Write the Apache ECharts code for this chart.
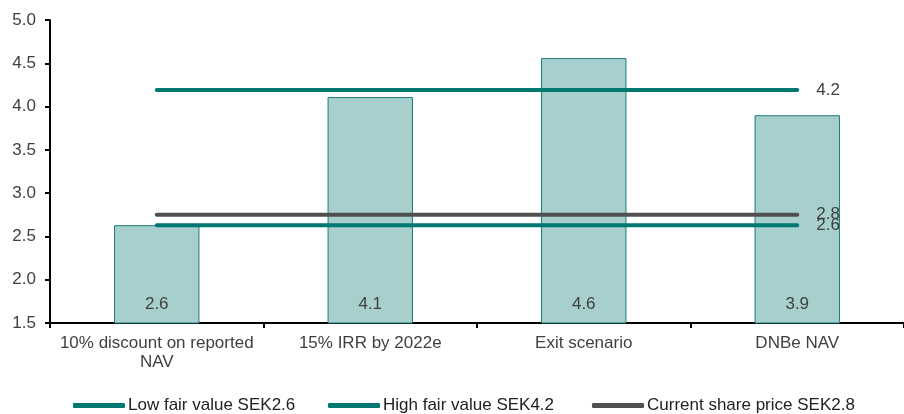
<!DOCTYPE html>
<html><head><meta charset="utf-8">
<script src="https://cdn.jsdelivr.net/npm/echarts@6/dist/echarts.min.js"></script>
<style>html,body{margin:0;padding:0;background:#fff}#c{width:904px;height:414px}</style>
</head><body><div id="c"></div>
<script>
const categories = ['10% discount on reported\nNAV', '15% IRR by 2022e', 'Exit scenario', 'DNBe NAV'];
const barValues = [2.63, 4.11, 4.56, 3.90];
const lowFair = [2.63, 2.63, 2.63, 2.63];
const highFair = [4.19, 4.19, 4.19, 4.19];
const sharePrice = [2.75, 2.75, 2.75, 2.75];
const lineNames = ['Low fair value SEK2.6', 'High fair value SEK4.2', 'Current share price SEK2.8'];
const yTicks = { min: 1.5, max: 5.0, interval: 0.5 };

const chart = echarts.init(document.getElementById('c'));
const txt = '#404040';
const FF = 'Liberation Sans';
function lineSeries(name, data, color) {
  return {
    name, type: 'line', data, symbol: 'none', z: 3,
    lineStyle: { color, width: 4, cap: 'round' },
    itemStyle: { color },
    endLabel: { show: true, distance: 19, color: txt, fontSize: 17, fontFamily: FF,
      formatter: p => p.value.toFixed(1) },
    emphasis: { disabled: true }
  };
}
function legend(name, left) {
  return {
    data: [name], left, top: 397, itemWidth: 52, itemHeight: 5, icon: 'roundRect',
    itemStyle: { borderWidth: 0 },
    textStyle: { color: '#222', fontSize: 17, fontFamily: FF, padding: [0, 0, 0, -2] },
    padding: 0, selectedMode: false
  };
}
chart.setOption({
  animation: false,
  grid: { left: 50, right: 0, top: 20, bottom: 91 },
  xAxis: {
    type: 'category', data: categories,
    axisLine: { lineStyle: { color: '#000', width: 2 } },
    axisTick: { show: true, interval: 0, length: 5, lineStyle: { color: '#000', width: 2 } },
    axisLabel: { interval: 0, color: txt, fontSize: 17, fontFamily: FF, margin: 11, lineHeight: 19 }
  },
  yAxis: {
    type: 'value', min: yTicks.min, max: yTicks.max, interval: yTicks.interval,
    axisLine: { show: true, lineStyle: { color: '#000', width: 2 } },
    axisTick: { show: true, length: 5, lineStyle: { color: '#000', width: 2 } },
    splitLine: { show: false },
    axisLabel: { color: txt, fontSize: 17, fontFamily: FF, margin: 14,
      formatter: v => v.toFixed(1) }
  },
  legend: [legend(lineNames[0], 73), legend(lineNames[1], 328), legend(lineNames[2], 592)],
  series: [
    {
      type: 'bar', data: barValues, barWidth: '40%', z: 2,
      itemStyle: { color: '#a6cfcd', borderColor: '#1b7d78', borderWidth: 1 },
      label: { show: true, position: 'insideBottom', distance: 11, color: txt, fontSize: 17,
        fontFamily: FF, formatter: p => p.value.toFixed(1) },
      emphasis: { disabled: true }
    },
    lineSeries(lineNames[0], lowFair, '#007872'),
    lineSeries(lineNames[1], highFair, '#007872'),
    lineSeries(lineNames[2], sharePrice, '#505050')
  ]
});
</script></body></html>
